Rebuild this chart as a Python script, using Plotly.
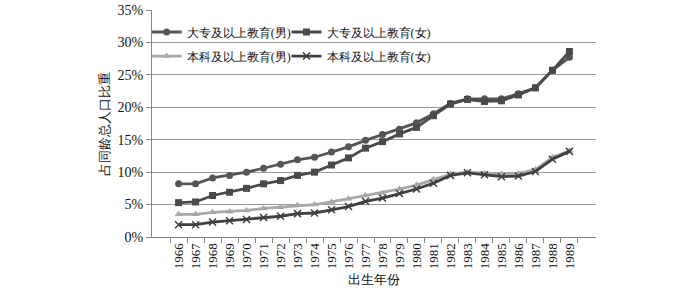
import plotly.graph_objects as go

years = [str(y) for y in range(1966, 1990)]
male_college = [8.2, 8.2, 9.1, 9.5, 10.0, 10.6, 11.2, 11.9, 12.3, 13.1, 13.9, 14.9,
                15.8, 16.6, 17.6, 19.0, 20.6, 21.3, 21.3, 21.3, 22.1, 23.0, 25.7, 27.7]
female_college = [5.3, 5.4, 6.4, 6.9, 7.5, 8.2, 8.7, 9.5, 10.0, 11.1, 12.2, 13.7,
                  14.7, 15.9, 16.9, 18.7, 20.5, 21.2, 20.9, 21.0, 21.9, 23.0, 25.7, 28.6]
male_bachelor = [3.5, 3.5, 3.8, 3.9, 4.1, 4.4, 4.6, 4.9, 5.0, 5.4, 5.9, 6.4,
                 6.8, 7.4, 8.0, 8.9, 9.7, 10.0, 9.8, 9.7, 9.8, 10.4, 12.3, 13.3]
female_bachelor = [1.9, 1.9, 2.3, 2.5, 2.7, 3.0, 3.2, 3.6, 3.7, 4.2, 4.7, 5.5,
                   6.0, 6.7, 7.4, 8.3, 9.5, 9.9, 9.6, 9.3, 9.4, 10.1, 12.0, 13.2]
y_ticks = [0, 5, 10, 15, 20, 25, 30, 35]

FONT = "Liberation Serif, Times New Roman, Times, serif"

fig = go.Figure()
series = [
    ("大专及以上教育(男)", male_college, "#555555", "circle", "legend2"),
    ("大专及以上教育(女)", female_college, "#4a4a4a", "square", "legend3"),
    ("本科及以上教育(男)", male_bachelor, "#a8a8a8", "triangle-up", "legend4"),
    ("本科及以上教育(女)", female_bachelor, "#404040", "x-thin", "legend5"),
]
for name, vals, color, sym, lg in series:
    marker = dict(symbol=sym, size=7, color=color)
    if sym == "x-thin":
        marker = dict(symbol=sym, size=7, color=color, line=dict(width=1.5, color=color))
    fig.add_trace(go.Scatter(
        x=years, y=[v / 100 for v in vals], name=name, mode="lines+markers",
        line=dict(color=color, width=2.8), marker=marker, legend=lg, showlegend=True,
    ))

def leg(x, y):
    return dict(orientation="h", x=x, y=y, xanchor="left", yanchor="middle",
                bgcolor="rgba(0,0,0,0)", font=dict(size=12), itemwidth=30)

fig.update_layout(
    width=700, height=296,
    margin=dict(l=152, r=104, t=10, b=59),
    paper_bgcolor="white", plot_bgcolor="white",
    showlegend=True,
    font=dict(family=FONT, size=13, color="#111111"),
    legend2=leg(-0.012, 0.903),
    legend3=leg(0.303, 0.903),
    legend4=leg(-0.012, 0.797),
    legend5=leg(0.303, 0.797),
)
fig.update_xaxes(
    type="category", tickangle=-90, tickson="boundaries", ticks="outside", ticklen=5,
    tickcolor="#888888", showline=True, linecolor="#888888", showgrid=False,
    tickfont=dict(size=13), automargin=False, ticklabeloverflow="allow",
    title=dict(text="出生年份", font=dict(size=13), standoff=6),
)
fig.update_yaxes(
    range=[0, 0.35], tickvals=[v / 100 for v in y_ticks],
    ticktext=[f"{v}%" for v in y_ticks], ticks="outside", ticklen=5, tickcolor="#888888",
    showline=True, linecolor="#888888", showgrid=True, gridcolor="#9a9a9a", gridwidth=1,
    zeroline=False, tickfont=dict(size=14), automargin=False, ticklabeloverflow="allow",
    title=dict(text="占同龄总人口比重", font=dict(size=13), standoff=4),
)

fig.write_html("out.html", config={"displayModeBar": False},
               post_script="document.body.style.margin='0';")
